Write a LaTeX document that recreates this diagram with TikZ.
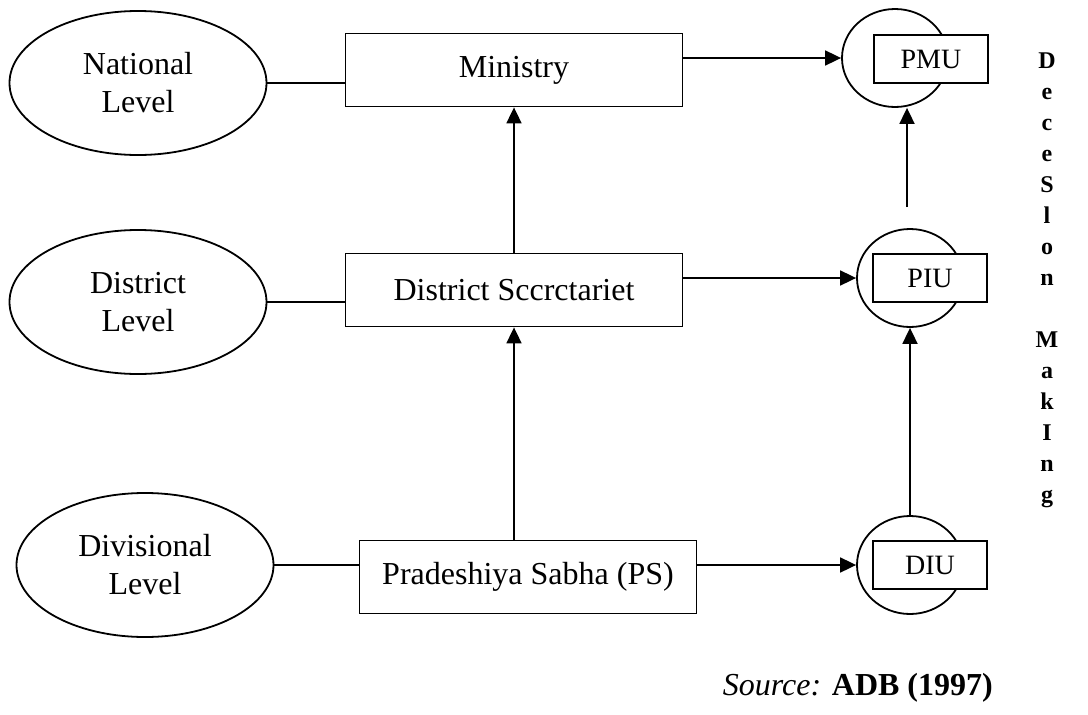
\documentclass[tikz,border=0pt]{standalone}
\usepackage{fontspec}
\setmainfont{Liberation Serif}
\usetikzlibrary{shapes.geometric,arrows.meta}

\begin{document}
\begin{tikzpicture}[x=1pt,y=-1pt,line width=1.8pt]

\tikzstyle{lvl} = [ellipse, draw=black, minimum width=257pt, minimum height=144pt, inner sep=0pt, align=center, font=\fontsize{32}{38}\selectfont]

\tikzstyle{body} = [rectangle, draw=black, minimum width=337pt, minimum height=73pt, inner sep=0pt, font=\fontsize{32}{38}\selectfont]

\tikzstyle{ring} = [ellipse, draw=black, minimum width=106pt, minimum height=98pt, inner sep=0pt]

\tikzstyle{unit} = [rectangle, draw=black, fill=white, minimum width=114pt, minimum height=48pt, inner sep=0pt, font=\fontsize{28}{34}\selectfont]

\tikzstyle{arr} = [-{Triangle[length=16pt,width=15pt]}]

    \useasboundingbox (0,0) rectangle (1088,715);

    % levels
    \node [lvl] (nat) at (138,83) {National\\Level};
    \node [lvl] (dis) at (138,302) {District\\Level};
    \node [lvl] (div) at (145,565) {Divisional\\Level};

    % bodies
    \node [body] (min) at (514,70) {Ministry};
    \node [body] (sec) at (514,290) {District Sccrctariet};
    \node [body] (ps) at (528,577) {Pradeshiya Sabha (PS)};

    % units
    \node [ring] (pmuc) at (895,58) {};
    \node [unit] (pmu) at (931,59) {PMU};
    \node [ring] (piuc) at (910,278) {};
    \node [unit] (piu) at (930,278) {PIU};
    \node [ring] (diuc) at (910,565) {};
    \node [unit] (diu) at (930,565) {DIU};

    \node [font=\fontsize{24}{31}\selectfont\bfseries, align=center] (dm) at (1047,280) {D\\e\\c\\e\\S\\l\\o\\n\\ \\M\\a\\k\\I\\n\\g};

    \node [anchor=base east, font=\fontsize{32}{38}\selectfont] (src) at (997,695) {\textit{Source:} \textbf{ADB (1997)}};

    \coordinate (gap) at (907,207);

    \draw (nat.east) -- (nat.east -| min.west);
    \draw (dis.east) -- (dis.east -| sec.west);
    \draw (div.east) -- (div.east -| ps.west);

    \draw [arr] (min.east |- pmuc.west) -- (pmuc.west);
    \draw [arr] (sec.east |- piuc.west) -- (piuc.west);
    \draw [arr] (ps.east |- diuc.west) -- (diuc.west);

    \draw [arr] (sec.north) -- (min.south);
    \draw [arr] (sec.south |- ps.north) -- (sec.south);
    \draw [arr] (diuc.north) -- (piuc.south);
    \draw [arr] (gap) -- (gap |- pmuc.south);

\end{tikzpicture}
\end{document}
